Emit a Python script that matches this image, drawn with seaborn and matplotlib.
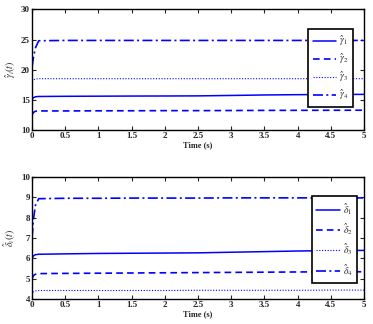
import numpy as np
import pandas as pd
import matplotlib
matplotlib.use("Agg")
import matplotlib.pyplot as plt
import seaborn as sns

# Sample times (s)
time = [0.0, 0.02, 0.05, 0.1, 0.5, 1.0, 1.5, 2.0, 2.5, 3.0, 3.5, 4.0, 4.5, 5.0]

# Estimated gamma parameters
gamma1 = [15.0, 15.35, 15.5, 15.55, 15.58, 15.6, 15.62, 15.63, 15.65, 15.72, 15.8, 15.85, 15.88, 15.9]
gamma2 = [12.5, 12.9, 13.1, 13.15, 13.15, 13.17, 13.18, 13.2, 13.2, 13.22, 13.24, 13.25, 13.26, 13.27]
gamma3 = [18.0, 18.3, 18.45, 18.5, 18.5, 18.5, 18.5, 18.5, 18.5, 18.5, 18.5, 18.5, 18.5, 18.5]
gamma4 = [20.5, 22.0, 23.6, 24.8, 24.85, 24.85, 24.85, 24.85, 24.85, 24.85, 24.85, 24.85, 24.85, 24.85]

# Estimated delta parameters
delta1 = [6.0, 6.12, 6.18, 6.2, 6.22, 6.24, 6.25, 6.26, 6.27, 6.3, 6.33, 6.36, 6.38, 6.39]
delta2 = [5.0, 5.15, 5.22, 5.25, 5.26, 5.27, 5.28, 5.29, 5.3, 5.31, 5.32, 5.33, 5.34, 5.34]
delta3 = [4.2, 4.35, 4.4, 4.42, 4.42, 4.42, 4.42, 4.42, 4.43, 4.43, 4.43, 4.43, 4.44, 4.44]
delta4 = [7.0, 7.9, 8.6, 8.93, 8.95, 8.95, 8.96, 8.96, 8.96, 8.97, 8.97, 8.97, 8.97, 8.97]

gamma_labels = [r"$\hat{\gamma}_1$", r"$\hat{\gamma}_2$", r"$\hat{\gamma}_3$", r"$\hat{\gamma}_4$"]
delta_labels = [r"$\hat{\delta}_1$", r"$\hat{\delta}_2$", r"$\hat{\delta}_3$", r"$\hat{\delta}_4$"]

sns.set_style("ticks")
plt.rcParams["font.family"] = ["Liberation Serif", "DejaVu Serif"]
plt.rcParams["mathtext.fontset"] = "stix"

styles = ["-", (0, (4, 2.5)), (0, (1, 1.5)), (0, (6, 2, 1.2, 2))]
widths = [1.1, 1.2, 0.8, 1.2]
blue = "#0000ff"

fig = plt.figure(figsize=(3.73, 3.24), dpi=100)
ax1 = fig.add_axes([0.086, 0.599, 0.890, 0.372])
ax2 = fig.add_axes([0.086, 0.077, 0.890, 0.377])


def draw(ax, series, labels, ylim, yticks, ylabel, anchor, spacing):
    for vals, lab, ls, lw in zip(series, labels, styles, widths):
        df = pd.DataFrame({"t": time, "v": vals})
        sns.lineplot(data=df, x="t", y="v", ax=ax, color=blue, linestyle=ls,
                     linewidth=lw, label=lab)
    ax.set_xlim(0, 5)
    ax.set_ylim(*ylim)
    ax.set_xticks([0, 0.5, 1, 1.5, 2, 2.5, 3, 3.5, 4, 4.5, 5])
    ax.set_xticklabels(["0", "0.5", "1", "1.5", "2", "2.5", "3", "3.5", "4", "4.5", "5"])
    ax.set_yticks(yticks)
    ax.tick_params(direction="in", top=True, right=True, length=3, width=0.8,
                   labelsize=6.5, pad=1.5)
    for lbl in ax.get_xticklabels() + ax.get_yticklabels():
        lbl.set_fontweight("bold")
    for sp in ax.spines.values():
        sp.set_linewidth(1.0)
        sp.set_color("black")
    ax.set_xlabel("Time (s)", fontsize=6, fontweight="bold", labelpad=1)
    ax.set_ylabel(ylabel, fontsize=7, labelpad=2)
    leg = ax.legend(loc="upper right", bbox_to_anchor=anchor, fontsize=7,
                    handlelength=2.4, labelspacing=spacing, borderpad=0.5,
                    handletextpad=0.3, borderaxespad=0, fancybox=False,
                    framealpha=1, edgecolor="black")
    leg.get_frame().set_linewidth(1.2)


draw(ax1, [gamma1, gamma2, gamma3, gamma4], gamma_labels, (10, 30),
     [10, 15, 20, 25, 30], r"$\hat{\gamma}_i(t)$", (0.967, 0.838), 0.4)
draw(ax2, [delta1, delta2, delta3, delta4], delta_labels, (4, 10),
     [4, 5, 6, 7, 8, 9, 10], r"$\hat{\delta}_i(t)$", (0.98, 0.844), 0.48)

fig.savefig("out.png", dpi=100)
